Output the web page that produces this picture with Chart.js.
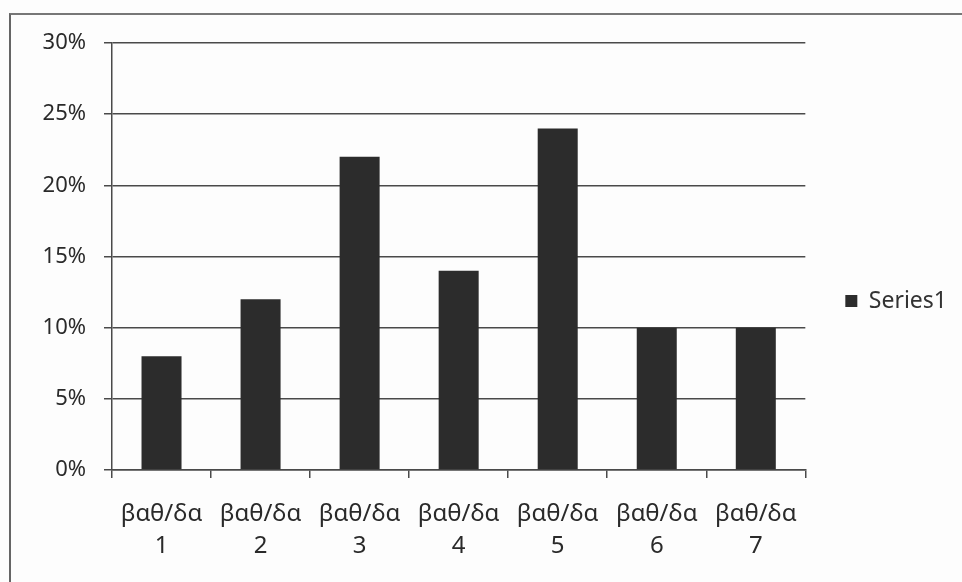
<!DOCTYPE html>
<html>
<head>
<meta charset="utf-8">
<script src="https://cdn.jsdelivr.net/npm/chart.js@4"></script>
<style>
    body { margin: 0; background: #fdfdfd; }
    #frame { position: absolute; left: 9px; top: 13px; width: 1000px; height: 600px;
             border-left: 2px solid #666; border-top: 2px solid #777; }
    #wrap { position: absolute; left: 0; top: 0; width: 962px; height: 582px; }
</style>
</head>
<body>
<div id="frame"></div>
<div id="wrap"><canvas id="barChart" width="962" height="582"></canvas></div>
<script>
var categories = [
    ['βαθ/δα', '1'], ['βαθ/δα', '2'], ['βαθ/δα', '3'], ['βαθ/δα', '4'],
    ['βαθ/δα', '5'], ['βαθ/δα', '6'], ['βαθ/δα', '7']
];
var seriesName = 'Series1';
var seriesValues = [8, 12, 22, 14, 24, 10, 10];
var yTicks = [0, 5, 10, 15, 20, 25, 30];

var lineColor = '#4a4a4a';
var fontFamily = "'Noto Sans', sans-serif";

var barChart = new Chart(document.getElementById('barChart'), {
    type: 'bar',
    data: {
        labels: categories,
        datasets: [{
            label: seriesName,
            data: seriesValues,
            backgroundColor: '#2c2c2c',
            borderWidth: 0,
            categoryPercentage: 1,
            barPercentage: 0.404
        }]
    },
    options: {
        responsive: false,
        animation: false,
        layout: {
            padding: { top: 43, left: 0, right: 5, bottom: 23 }
        },
        plugins: {
            tooltip: { enabled: false },
            legend: {
                position: 'right',
                labels: {
                    color: '#333',
                    font: { family: fontFamily, size: 23 },
                    boxWidth: 12,
                    boxHeight: 12,
                    padding: 40
                }
            }
        },
        scales: {
            x: {
                afterFit: function (scale) { scale.height = 89; }, // plot bottom at 470
                grid: { drawOnChartArea: false, drawTicks: true, tickLength: 8, color: lineColor, lineWidth: 1.5 },
                border: { color: lineColor, width: 1.5 },
                ticks: {
                    color: '#2a2a2a',
                    font: { family: fontFamily, size: 24, lineHeight: 1.34 },
                    padding: 20,
                    maxRotation: 0
                }
            },
            y: {
                min: 0,
                max: 30,
                afterFit: function (scale) { scale.width = 112; },
                afterBuildTicks: function (scale) {
                    scale.ticks = yTicks.map(function (v) { return { value: v }; });
                },
                grid: { color: lineColor, lineWidth: 1.5, tickLength: 8 },
                border: { color: lineColor, width: 1.5 },
                ticks: {
                    color: '#2a2a2a',
                    font: { family: fontFamily, size: 22 },
                    padding: 18,
                    callback: function (v) { return v + '%'; }
                }
            }
        }
    }
});
</script>
</body>
</html>
